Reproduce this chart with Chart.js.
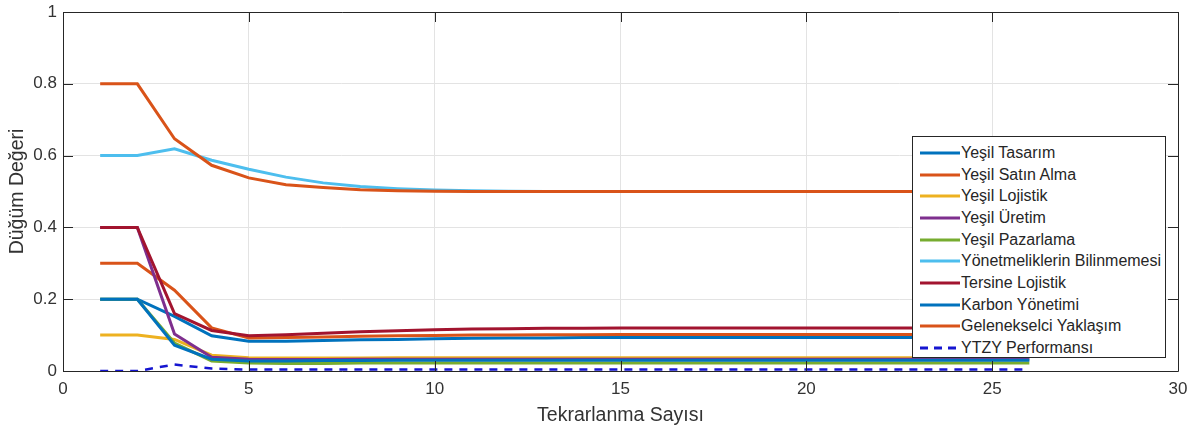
<!DOCTYPE html>
<html>
<head>
<meta charset="utf-8">
<script src="https://cdn.jsdelivr.net/npm/chart.js@4/dist/chart.umd.min.js"></script>
<style>
  html, body { margin: 0; padding: 0; background: #ffffff; }
  #wrap { position: relative; width: 1193px; height: 430px; }
  #legend {
    position: absolute; left: 912px; top: 136px; width: 254px; height: 222px;
    border: 1px solid #262626; background: #fff; box-sizing: border-box;
    padding-top: 5px; font-family: "Liberation Sans", Arial, sans-serif; font-size: 16px; color: #262626;
  }
  .row { height: 21.7px; display: flex; align-items: center; white-space: nowrap; }
  .row svg { margin-left: 7px; margin-right: 1px; flex: none; }
</style>
</head>
<body>
<div id="wrap">
  <canvas id="c" width="1193" height="430"></canvas>
  <div id="legend"></div>
</div>
<script>
const iterations = [1,2,3,4,5,6,7,8,9,10,11,12,13,14,15,16,17,18,19,20,21,22,23,24,25,26];
const seriesNames = ["Yeşil Tasarım","Yeşil Satın Alma","Yeşil Lojistik","Yeşil Üretim","Yeşil Pazarlama","Yönetmeliklerin Bilinmemesi","Tersine Lojistik","Karbon Yönetimi","Gelenekselci Yaklaşım","YTZY Performansı"];
const xTicks = [0,5,10,15,20,25,30];
const yTicks = [0,0.2,0.4,0.6,0.8,1];

const yesilTasarim   = [0.2,0.2,0.152,0.098,0.083,0.083,0.085,0.087,0.088,0.090,0.091,0.092,0.092,0.093,0.093,0.093,0.093,0.093,0.093,0.093,0.093,0.093,0.093,0.093,0.093,0.093];
const yesilSatinAlma = [0.3,0.3,0.225,0.120,0.092,0.093,0.095,0.097,0.098,0.099,0.100,0.100,0.101,0.101,0.102,0.102,0.102,0.102,0.102,0.102,0.102,0.102,0.102,0.102,0.102,0.102];
const yesilLojistik  = [0.1,0.1,0.088,0.044,0.037,0.036,0.036,0.036,0.037,0.037,0.037,0.037,0.037,0.037,0.037,0.037,0.037,0.037,0.037,0.037,0.037,0.037,0.037,0.037,0.037,0.037];
const yesilUretim    = [0.4,0.4,0.103,0.038,0.033,0.032,0.032,0.033,0.033,0.033,0.033,0.033,0.033,0.033,0.033,0.033,0.033,0.033,0.033,0.033,0.033,0.033,0.033,0.033,0.033,0.033];
const yesilPazarlama = [0.2,0.2,0.078,0.028,0.022,0.021,0.021,0.022,0.022,0.022,0.022,0.022,0.022,0.022,0.022,0.022,0.022,0.022,0.022,0.022,0.022,0.022,0.022,0.022,0.022,0.022];
const yonetmelik     = [0.6,0.6,0.619,0.587,0.562,0.540,0.524,0.514,0.508,0.504,0.502,0.501,0.5,0.5,0.5,0.5,0.5,0.5,0.5,0.5,0.5,0.5,0.5,0.5,0.5,0.5];
const tersine        = [0.4,0.4,0.160,0.113,0.098,0.101,0.105,0.109,0.112,0.115,0.117,0.118,0.119,0.119,0.120,0.120,0.120,0.120,0.120,0.120,0.120,0.120,0.120,0.120,0.120,0.120];
const karbon         = [0.2,0.2,0.072,0.033,0.028,0.028,0.029,0.029,0.030,0.030,0.030,0.030,0.030,0.030,0.030,0.030,0.030,0.030,0.030,0.030,0.030,0.030,0.030,0.030,0.030,0.030];
const geleneksel     = [0.8,0.8,0.647,0.573,0.538,0.519,0.511,0.505,0.502,0.501,0.5,0.5,0.5,0.5,0.5,0.5,0.5,0.5,0.5,0.5,0.5,0.5,0.5,0.5,0.5,0.5];
const ytzy           = [0,0,0.018,0.007,0.004,0.004,0.004,0.004,0.004,0.004,0.004,0.004,0.004,0.004,0.004,0.004,0.004,0.004,0.004,0.004,0.004,0.004,0.004,0.004,0.004,0.004];

const seriesValues = [yesilTasarim,yesilSatinAlma,yesilLojistik,yesilUretim,yesilPazarlama,yonetmelik,tersine,karbon,geleneksel,ytzy];
const colors = ["#0072BD","#D95319","#EDB120","#7E2F8E","#77AC30","#4DBEEE","#A2142F","#0072BD","#D95319","#1515d0"];

const datasets = seriesNames.map((name, i) => ({
  label: name,
  data: iterations.map((x, k) => ({x: x, y: seriesValues[i][k]})),
  borderColor: colors[i],
  backgroundColor: colors[i],
  borderWidth: i === 9 ? 2.5 : 3,
  borderDash: i === 9 ? [8, 7] : [],
  pointRadius: 0,
  tension: 0,
  fill: false,
  order: seriesNames.length - i
}));

const FONT = '"Liberation Sans", Arial, sans-serif';
const AX = '#262626';

const boxPlugin = {
  id: 'box',
  afterDraw(chart) {
    const {ctx, chartArea: a, scales} = chart;
    ctx.save();
    ctx.strokeStyle = AX;
    ctx.lineWidth = 1;
    ctx.beginPath();
    ctx.rect(Math.round(a.left) + 0.5, Math.round(a.top) + 0.5, Math.round(a.right - a.left), Math.round(a.bottom - a.top));
    ctx.stroke();
    const L = 10;
    ctx.beginPath();
    xTicks.forEach(v => {
      const px = Math.round(scales.x.getPixelForValue(v)) + 0.5;
      ctx.moveTo(px, a.bottom); ctx.lineTo(px, a.bottom - L);
      ctx.moveTo(px, a.top); ctx.lineTo(px, a.top + L);
    });
    yTicks.forEach(v => {
      const py = Math.round(scales.y.getPixelForValue(v)) + 0.5;
      ctx.moveTo(a.left, py); ctx.lineTo(a.left + L, py);
      ctx.moveTo(a.right, py); ctx.lineTo(a.right - L, py);
    });
    ctx.stroke();
    ctx.restore();
  }
};

new Chart(document.getElementById('c'), {
  type: 'line',
  data: { datasets },
  options: {
    responsive: false,
    animation: false,
    layout: { padding: { left: 0, top: 12, right: 15, bottom: 0 } },
    plugins: { legend: { display: false }, tooltip: { enabled: false } },
    scales: {
      x: {
        type: 'linear', min: 0, max: 30,
        afterFit(s) { s.height = 59; s.paddingLeft = 0; s.paddingRight = 0; },
        afterBuildTicks(s) { s.ticks = xTicks.map(v => ({value: v})); },
        grid: { color: '#e3e3e3', drawTicks: false, lineWidth: 1 },
        border: { display: false },
        ticks: { padding: 8, color: '#333', font: { family: FONT, size: 17 }, callback: v => String(v) },
        title: { display: true, text: 'Tekrarlanma Sayısı', color: '#333', font: { family: FONT, size: 19.5 }, padding: { top: 0, bottom: 3 } }
      },
      y: {
        type: 'linear', min: 0, max: 1,
        afterFit(s) { s.width = 63; s.paddingTop = 0; s.paddingBottom = 0; },
        afterBuildTicks(s) { s.ticks = yTicks.map(v => ({value: v})); },
        grid: { color: '#e3e3e3', drawTicks: false, lineWidth: 1 },
        border: { display: false },
        ticks: { padding: 6, color: '#333', font: { family: FONT, size: 17 }, callback: v => String(v) },
        title: { display: true, text: 'Düğüm Değeri', color: '#333', font: { family: FONT, size: 19.5 }, padding: { top: 6, bottom: 0 } }
      }
    }
  },
  plugins: [boxPlugin]
});

const leg = document.getElementById('legend');
seriesNames.forEach((name, i) => {
  const row = document.createElement('div');
  row.className = 'row';
  const dash = i === 9 ? ' stroke-dasharray="8 6"' : '';
  row.innerHTML = '<svg width="40" height="6"><line x1="0" y1="3" x2="40" y2="3" stroke="' + colors[i] + '" stroke-width="3"' + dash + '/></svg>';
  const span = document.createElement('span');
  span.textContent = name;
  row.appendChild(span);
  leg.appendChild(row);
});
</script>
</body>
</html>
